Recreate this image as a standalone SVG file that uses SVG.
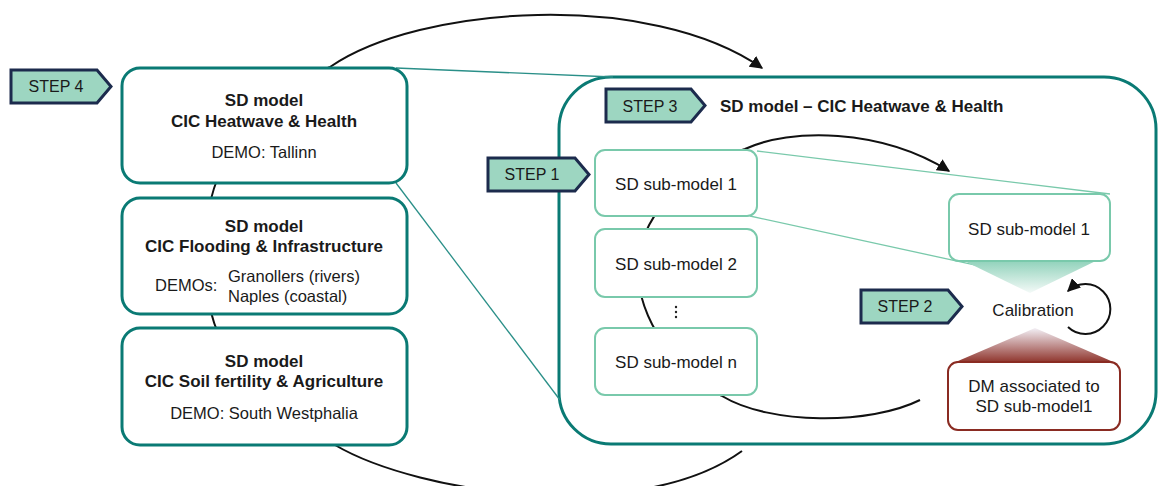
<svg xmlns="http://www.w3.org/2000/svg" width="1158" height="486" viewBox="0 0 1158 486">
  <defs>
    <style>
      text { font-family: "Liberation Sans", Arial, sans-serif; fill: #1a1a1a; }
      .b { font-weight: bold; font-size: 17px; }
      .r { font-size: 16.5px; }
      .s { font-size: 17px; }
      .step { fill: #9dd6c1; stroke: #1c2b4d; stroke-width: 3; stroke-linejoin: miter; }
      .steptxt { font-size: 16px; text-anchor: middle; }
      .model { fill: #fff; stroke: #0a7a74; stroke-width: 3; }
      .sub { fill: #fff; stroke: #79c9ab; stroke-width: 2; }
      .dm { fill: #fff; stroke: #8a2b22; stroke-width: 2; }
      .flow { fill: none; stroke: #111; stroke-width: 2; }
      .zoomT { stroke: #2a8f88; stroke-width: 1.3; fill: none; }
      .zoomG { stroke: #79c9ab; stroke-width: 1.3; fill: none; }
      .mid { text-anchor: middle; }
    </style>
    <marker id="arrow" viewBox="0 0 10 10" refX="9" refY="5" markerWidth="6.5" markerHeight="6.5" orient="auto" markerUnits="strokeWidth">
      <path d="M0,0 L10,5 L0,10 z" fill="#111"/>
    </marker>
    <linearGradient id="gGreen" x1="0" y1="0" x2="0" y2="1">
      <stop offset="0" stop-color="#7fcbb0"/>
      <stop offset="1" stop-color="#f4faf8"/>
    </linearGradient>
    <linearGradient id="gRed" x1="0" y1="1" x2="0" y2="0">
      <stop offset="0" stop-color="#8a2b22"/>
      <stop offset="1" stop-color="#f3f0f6"/>
    </linearGradient>
  </defs>

  <!-- outer container for the heatwave model -->
  <g id="container">
    <rect x="559" y="77" width="597" height="367" rx="52" fill="#fff" stroke="#0a7a74" stroke-width="3"/>
  </g>

  <g id="connectors">
    <!-- zoom lines from model box to container -->
    <line class="zoomT" x1="396" y1="68" x2="613" y2="77"/>
    <line class="zoomT" x1="396" y1="183" x2="560" y2="400"/>
    <!-- zoom lines from sub-model 1 to detail -->
    <line class="zoomG" x1="757" y1="151" x2="1110" y2="194"/>
    <line class="zoomG" x1="750" y1="216" x2="1030" y2="277"/>
    <!-- outer loop -->
    <path class="flow" d="M 330 67 C 420 5, 650 -10, 762 68" marker-end="url(#arrow)"/>
    <path class="flow" d="M 330 67 C 230 110, 204 190, 204 256 C 204 322, 230 400, 335 445"/>
    <path class="flow" d="M 335 445 C 420 495, 640 525, 742 451"/>
    <!-- inner loop -->
    <path class="flow" d="M 745 149 C 790 128, 880 128, 949 171" marker-end="url(#arrow)"/>
    <path class="flow" d="M 745 149 C 690 165, 640 215, 638 265 C 636 320, 680 375, 722 396"/>
    <path class="flow" d="M 722 396 C 770 425, 870 425, 920 400"/>
    <!-- calibration cycle -->
    <path class="flow" d="M 1068 327 A 25 25 0 1 0 1068 291" marker-end="url(#arrow)"/>
  </g>

  <g id="step4">
    <polygon class="step" points="11,70 97,70 111,86.5 97,103 11,103"/>
    <text class="steptxt" x="56" y="92">STEP 4</text>
  </g>

  <g id="model-heatwave">
    <rect class="model" x="122" y="68" width="285" height="115" rx="18"/>
    <text class="b mid" x="264" y="106">SD model</text>
    <text class="b mid" x="264" y="127">CIC Heatwave &amp; Health</text>
    <text class="r mid" x="264" y="158">DEMO: Tallinn</text>
  </g>

  <g id="model-flooding">
    <rect class="model" x="122" y="198" width="285" height="116" rx="18"/>
    <text class="b mid" x="264" y="232">SD model</text>
    <text class="b mid" x="264" y="252">CIC Flooding &amp; Infrastructure</text>
    <text class="r" x="155" y="291">DEMOs:</text>
    <text class="r" x="228" y="282">Granollers (rivers)</text>
    <text class="r" x="228" y="302">Naples (coastal)</text>
  </g>

  <g id="model-soil">
    <rect class="model" x="122" y="328" width="285" height="117" rx="18"/>
    <text class="b mid" x="264" y="367">SD model</text>
    <text class="b mid" x="264" y="387">CIC Soil fertility &amp; Agriculture</text>
    <text class="r mid" x="264" y="419">DEMO: South Westphalia</text>
  </g>

  <g id="step3">
    <polygon class="step" points="606,89 691,89 705,105.5 691,122 606,122"/>
    <text class="steptxt" x="650" y="112">STEP 3</text>
    <text class="b" x="720" y="112">SD model – CIC Heatwave &amp; Health</text>
  </g>

  <g id="step1">
    <polygon class="step" points="488,158 575,158 589,174.5 575,191 488,191"/>
    <text class="steptxt" x="532" y="180">STEP 1</text>
  </g>

  <g id="sub-model-1">
    <rect class="sub" x="595" y="150" width="162" height="66" rx="10"/>
    <text class="s mid" x="676" y="190">SD sub-model 1</text>
  </g>

  <g id="sub-model-2">
    <rect class="sub" x="595" y="229" width="162" height="68" rx="10"/>
    <text class="s mid" x="676" y="270">SD sub-model 2</text>
  </g>

  <g id="ellipsis">
    <circle cx="676" cy="307" r="1.2" fill="#222"/>
    <circle cx="676" cy="312" r="1.2" fill="#222"/>
    <circle cx="676" cy="317" r="1.2" fill="#222"/>
  </g>

  <g id="sub-model-n">
    <rect class="sub" x="595" y="328" width="162" height="67" rx="10"/>
    <text class="s mid" x="676" y="368">SD sub-model n</text>
  </g>

  <g id="detail-sub-model">
    <polygon points="952,255 1108,255 1030,293" fill="url(#gGreen)"/>
    <rect class="sub" x="949" y="194" width="161" height="67" rx="10"/>
    <text class="s mid" x="1029" y="235">SD sub-model 1</text>
  </g>

  <g id="step2">
    <polygon class="step" points="861,290 948,290 962,306.5 948,323 861,323"/>
    <text class="steptxt" x="905" y="312">STEP 2</text>
  </g>

  <g id="calibration">
    <text class="s mid" x="1033" y="316">Calibration</text>
  </g>

  <g id="dm">
    <polygon points="1035,328 1118,364 951,364" fill="url(#gRed)"/>
    <rect class="dm" x="948" y="362" width="172" height="68" rx="10"/>
    <text class="s mid" x="1034" y="392">DM associated to</text>
    <text class="s mid" x="1034" y="412">SD sub-model1</text>
  </g>
</svg>
